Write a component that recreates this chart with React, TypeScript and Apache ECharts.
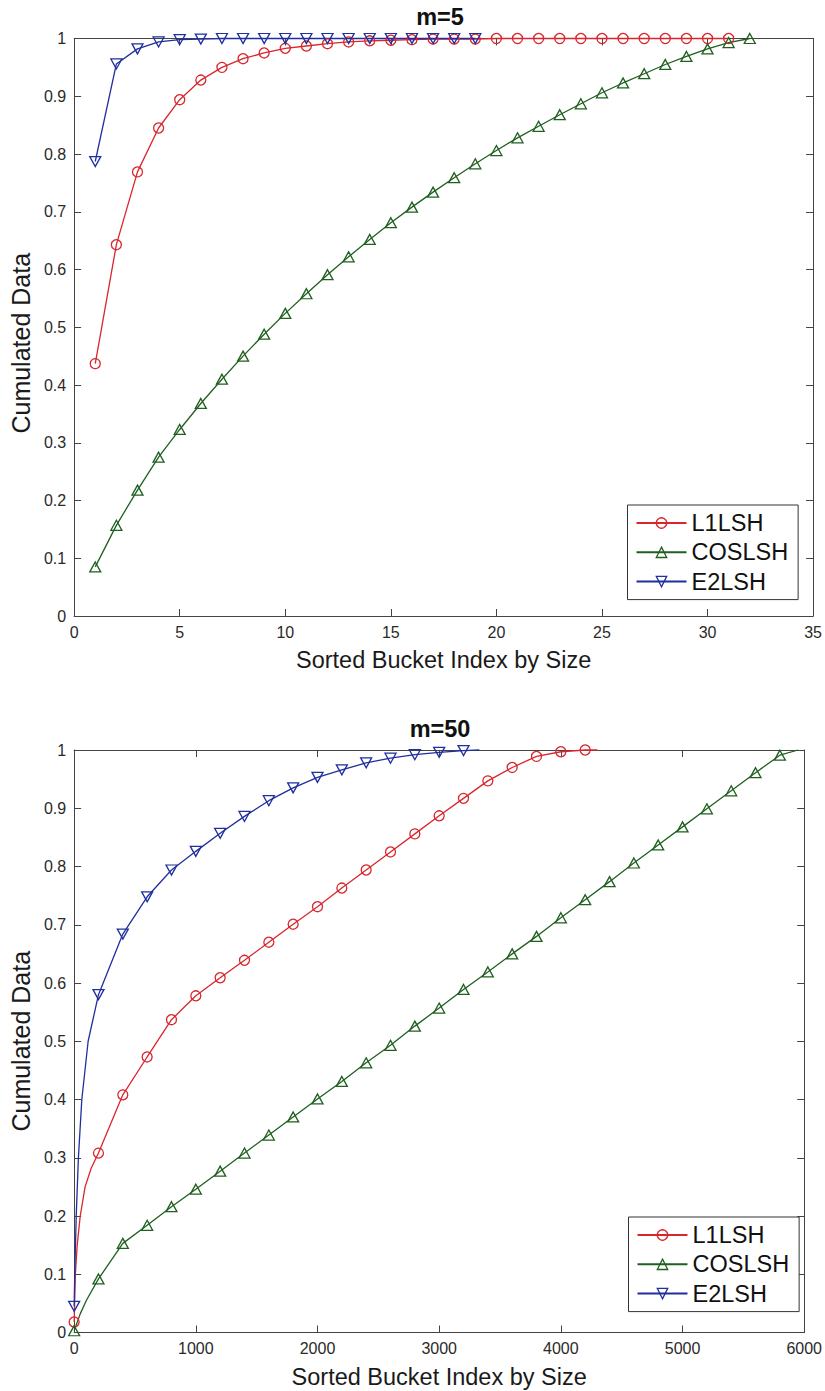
import React, { useEffect, useRef } from 'react';
import * as echarts from 'echarts';

// ---------- Data: m=5 (x = bucket index 1..n) ----------
const m5L1 = [0.437, 0.643, 0.769, 0.845, 0.894, 0.928, 0.95, 0.965, 0.975, 0.983, 0.987, 0.991, 0.994, 0.996, 0.997, 0.998, 0.999, 0.999, 0.999, 1, 1, 1, 1, 1, 1, 1, 1, 1, 1, 1, 1];
const m5Cos = [0.085, 0.157, 0.218, 0.275, 0.323, 0.368, 0.41, 0.45, 0.488, 0.524, 0.558, 0.591, 0.622, 0.652, 0.681, 0.708, 0.734, 0.759, 0.783, 0.806, 0.828, 0.848, 0.868, 0.887, 0.906, 0.923, 0.939, 0.955, 0.969, 0.982, 0.993, 1.0];
const m5E2 = [0.787, 0.956, 0.982, 0.994, 0.998, 0.999, 1, 1, 1, 1, 1, 1, 1, 1, 1, 1, 1, 1, 1];

// ---------- Data: m=50 (marker points) ----------
const m50L1MarkX = [0, 200, 400, 600, 800, 1000, 1200, 1400, 1600, 1800, 2000, 2200, 2400, 2600, 2800, 3000, 3200, 3400, 3600, 3800, 4000, 4200];
const m50L1MarkY = [0.018, 0.308, 0.408, 0.473, 0.537, 0.578, 0.609, 0.639, 0.67, 0.701, 0.731, 0.763, 0.794, 0.825, 0.856, 0.887, 0.917, 0.947, 0.97, 0.989, 0.997, 1.0];
const m50CosMarkX = [0, 200, 400, 600, 800, 1000, 1200, 1400, 1600, 1800, 2000, 2200, 2400, 2600, 2800, 3000, 3200, 3400, 3600, 3800, 4000, 4200, 4400, 4600, 4800, 5000, 5200, 5400, 5600, 5800];
const m50CosMarkY = [0.003, 0.092, 0.153, 0.184, 0.216, 0.246, 0.277, 0.308, 0.339, 0.37, 0.401, 0.431, 0.463, 0.493, 0.526, 0.557, 0.589, 0.619, 0.65, 0.68, 0.712, 0.743, 0.774, 0.806, 0.837, 0.868, 0.899, 0.93, 0.961, 0.991];
const m50E2MarkX = [0, 200, 400, 600, 800, 1000, 1200, 1400, 1600, 1800, 2000, 2200, 2400, 2600, 2800, 3000, 3200];
const m50E2MarkY = [0.045, 0.58, 0.684, 0.748, 0.794, 0.826, 0.857, 0.886, 0.913, 0.935, 0.953, 0.966, 0.978, 0.986, 0.992, 0.996, 0.999];

// ---------- Data: m=50 (curve points read between markers, no marker) ----------
const m50L1CurveX = [10, 25, 50, 90, 140, 4300];
const m50L1CurveY = [0.1, 0.15, 0.2, 0.25, 0.282, 1.0];
const m50CosCurveX = [50, 100, 5950];
const m50CosCurveY = [0.032, 0.055, 1.0];
const m50E2CurveX = [5, 17, 35, 63, 115, 3330];
const m50E2CurveY = [0.1, 0.2, 0.3, 0.4, 0.5, 1.0];

const seriesNames = ['L1LSH', 'COSLSH', 'E2LSH'];
const titles = ['m=5', 'm=50'];
const xName = 'Sorted Bucket Index by Size';
const yName = 'Cumulated Data';

const RED = '#d8262c';
const GREEN = '#1f5f1f';
const BLUE = '#1f2f9e';
const FONT = '"Liberation Sans", Arial, Helvetica, sans-serif';
const AXIS = '#444';

function buildM50(mx: number[], my: number[], cx: number[], cy: number[]) {
  const pts: any[] = [];
  mx.forEach((x, i) => pts.push({ value: [x, my[i]] }));
  cx.forEach((x, i) => pts.push({ value: [x, cy[i]], symbol: 'none' }));
  pts.sort((a, b) => a.value[0] - b.value[0]);
  return pts;
}

function seriesStyle(name: string, color: string, symbol: string, size: any, rotate: number) {
  return {
    name,
    type: 'line',
    symbol,
    symbolSize: size,
    symbolRotate: rotate,
    showAllSymbol: true,
    clip: false,
    smooth: false,
    lineStyle: { color, width: 1.3 },
    itemStyle: { color: 'rgba(255,255,255,0)', borderColor: color, borderWidth: 1.3 },
    emphasis: { disabled: true },
  };
}

function axesFor(gridIndex: number, xMax: number, xInterval: number, yNameShift: number) {
  const tick = { show: true, inside: true, length: 7, lineStyle: { color: AXIS } };
  const line = { show: true, onZero: false, lineStyle: { color: AXIS, width: 1 } };
  const label = { color: '#2a2a2a', fontSize: 16, fontFamily: FONT, margin: 8 };
  const xAxes = [
    {
      type: 'value', gridIndex, min: 0, max: xMax, interval: xInterval, position: 'bottom',
      axisLine: line, axisTick: tick,
      axisLabel: { ...label, formatter: (v: number) => String(v) },
      splitLine: { show: false },
      name: xName, nameLocation: 'middle', nameGap: 32,
      nameTextStyle: { fontSize: 23.5, color: '#1a1a1a', fontFamily: FONT },
    },
    {
      type: 'value', gridIndex, min: 0, max: xMax, interval: xInterval, position: 'top',
      axisLine: line, axisTick: tick, axisLabel: { show: false }, splitLine: { show: false },
    },
  ];
  const yAxes = [
    {
      type: 'value', gridIndex, min: 0, max: 1, interval: 0.1, position: 'left',
      axisLine: line, axisTick: tick, axisLabel: label, splitLine: { show: false },
      name: yName, nameLocation: 'middle', nameGap: 37, nameRotate: 90,
      nameTextStyle: { fontSize: 25, color: '#1a1a1a', fontFamily: FONT, padding: [0, yNameShift, 0, 0] },
    },
    {
      type: 'value', gridIndex, min: 0, max: 1, interval: 0.1, position: 'right',
      axisLine: line, axisTick: tick, axisLabel: { show: false }, splitLine: { show: false },
    },
  ];
  return { xAxes, yAxes };
}

function legendAt(left: number, top: number) {
  return {
    orient: 'vertical',
    left,
    top,
    data: seriesNames,
    itemWidth: 50,
    itemHeight: 13,
    itemGap: 5.3,
    padding: [6, 10, 6, 8],
    borderColor: '#333',
    borderWidth: 1,
    borderRadius: 0,
    backgroundColor: '#ffffff',
    selectedMode: false,
    itemStyle: { borderWidth: 1.3 },
    textStyle: { fontSize: 23.5, color: '#111', fontFamily: FONT },
  };
}

export default function App() {
  const ref = useRef<HTMLDivElement>(null);

  useEffect(() => {
    if (!ref.current) return;
    const chart = echarts.init(ref.current, null, { renderer: 'svg' });

    const a1 = axesFor(0, 35, 5, 32);
    const a2 = axesFor(1, 6000, 1000, 0);

    const top = (vals: number[]) => vals.map((v, i) => [i + 1, v]);

    const option: any = {
      animation: false,
      backgroundColor: '#ffffff',
      grid: [
        { left: 71, top: 38.5, width: 743, height: 577.5 },
        { left: 72, top: 750, width: 742, height: 582.5 },
      ],
      xAxis: [...a1.xAxes, ...a2.xAxes],
      yAxis: [...a1.yAxes, ...a2.yAxes],
      legend: [legendAt(627.5, 505), legendAt(628.5, 1217)],
      graphic: [
        {
          type: 'text', x: 440, y: 17,
          style: { text: titles[0], font: `bold 23.5px ${FONT}`, fill: '#111', align: 'center', verticalAlign: 'middle', textAlign: 'center', textVerticalAlign: 'middle' },
        },
        {
          type: 'text', x: 440, y: 729,
          style: { text: titles[1], font: `bold 23.5px ${FONT}`, fill: '#111', align: 'center', verticalAlign: 'middle', textAlign: 'center', textVerticalAlign: 'middle' },
        },
      ],
      series: [
        { ...seriesStyle(seriesNames[0], RED, 'circle', 10, 0), xAxisIndex: 0, yAxisIndex: 0, data: top(m5L1) },
        { ...seriesStyle(seriesNames[1], GREEN, 'triangle', [11, 10], 0), xAxisIndex: 0, yAxisIndex: 0, data: top(m5Cos) },
        { ...seriesStyle(seriesNames[2], BLUE, 'triangle', [11, 10], 180), xAxisIndex: 0, yAxisIndex: 0, data: top(m5E2) },
        { ...seriesStyle(seriesNames[0], RED, 'circle', 10, 0), xAxisIndex: 2, yAxisIndex: 2, data: buildM50(m50L1MarkX, m50L1MarkY, m50L1CurveX, m50L1CurveY) },
        { ...seriesStyle(seriesNames[1], GREEN, 'triangle', [11, 10], 0), xAxisIndex: 2, yAxisIndex: 2, data: buildM50(m50CosMarkX, m50CosMarkY, m50CosCurveX, m50CosCurveY) },
        { ...seriesStyle(seriesNames[2], BLUE, 'triangle', [11, 10], 180), xAxisIndex: 2, yAxisIndex: 2, data: buildM50(m50E2MarkX, m50E2MarkY, m50E2CurveX, m50E2CurveY) },
      ],
    };

    chart.setOption(option);
    return () => chart.dispose();
  }, []);

  return (
    <div
      ref={ref}
      style={{ position: 'absolute', left: 0, top: 0, width: 825, height: 1391, background: '#fff' }}
    />
  );
}
